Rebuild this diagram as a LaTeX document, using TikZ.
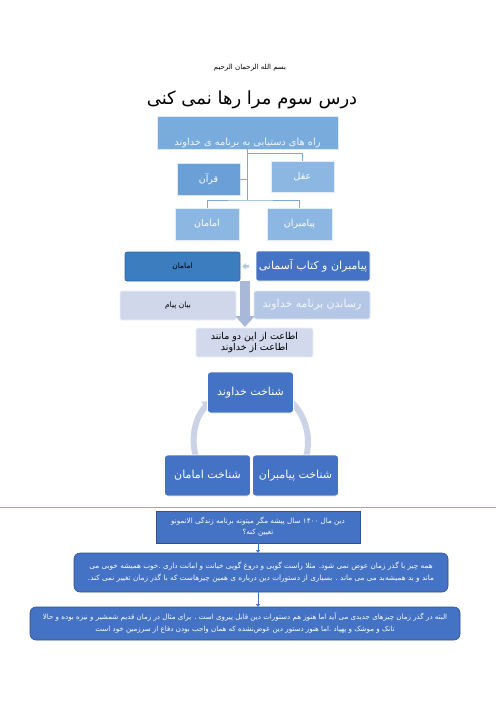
\documentclass[tikz,border=0pt]{standalone}
\usepackage{fontspec}
\newfontfamily\fa[Script=Arabic]{DejaVu Sans}
\TeXXeTstate=1
\newcommand{\rl}[1]{{\fa\beginR #1\endR}}
\usetikzlibrary{arrows.meta,calc}
\definecolor{topf}{HTML}{79ACDC}
\definecolor{lbf}{HTML}{8CB7E2}
\definecolor{qf}{HTML}{6A9FD8}
\definecolor{dbl}{HTML}{4472C4}
\definecolor{dbd}{HTML}{2F528F}
\definecolor{imf}{HTML}{3B7DBF}
\definecolor{rsf}{HTML}{B4C7E7}
\definecolor{bpf}{HTML}{D0D7EA}
\definecolor{arf}{HTML}{A9B7D9}
\definecolor{etf}{HTML}{D3D9EC}
\definecolor{cyc}{HTML}{CCD3E6}
\definecolor{connc}{HTML}{7FA8D8}
\definecolor{hline}{HTML}{8EAADB}
\tikzset{
  base/.style={inner sep=0pt, outer sep=0pt, align=center},
  lbox/.style={base, fill=#1, draw=white!75!#1, line width=0.8pt, text=white},
  conn/.style={draw=connc, line width=0.8pt},
  softbox/.style={base, fill=#1, draw=white!60!#1, line width=0.8pt, rounded corners=2pt},
  cycbox/.style={base, fill=dbl, draw=white, line width=0.8pt, rounded corners=3pt, text=white,
     minimum width=86pt, minimum height=41pt, font=\fontsize{11}{13}\selectfont},
  bluebox/.style={base, fill=dbl, draw=dbd, line width=0.6pt, text=white},
  smallarr/.style={draw=dbl, line width=0.6pt, -{Triangle[width=4pt,length=3pt]}},
}
\begin{document}
\begin{tikzpicture}[x=1pt,y=-1pt]
\useasboundingbox[fill=white] (0,0) rectangle (496,702);

\node[base, font=\fontsize{7}{8}\selectfont] (bism) at (250,68) {\rl{بسم الله الرحمان الرحیم}};
\node[base, font=\fontsize{18}{20}\selectfont] (title) at (252,100) {\rl{درس سوم مرا رها نمی کنی}};

% hierarchy
\node[lbox=topf, minimum width=181pt, minimum height=33pt, text height=29pt, text depth=4pt,
      text=white!90!topf, font=\fontsize{9.8}{11}\selectfont] (top) at (247.5,132.5)
      {\rl{راه های دستیابی به برنامه ی خداوند}};
\node[lbox=lbf, minimum width=63pt, minimum height=31pt, font=\fontsize{9.5}{11}\selectfont] (aql) at (302.5,176.5) {\rl{عقل}};
\node[lbox=qf, minimum width=63pt, minimum height=32pt, font=\fontsize{9.5}{11}\selectfont] (quran) at (208.5,179) {\rl{قرآن}};
\node[lbox=lbf, minimum width=64pt, minimum height=32pt, font=\fontsize{9.5}{11}\selectfont] (imL) at (207,224) {\rl{امامان}};
\node[lbox=lbf, minimum width=65pt, minimum height=32pt, font=\fontsize{9.5}{11}\selectfont] (payL) at (299.5,224) {\rl{پیامبران}};
\coordinate (j1) at (top.south |- 0,153);
\coordinate (j2) at (top.south |- quran.east);
\coordinate (j3) at (top.south |- 0,200);
\draw[conn] (top.south) -- (j3);
\draw[conn] (j1) -| (aql.north);
\draw[conn] (j2) -- (quran.east);
\draw[conn] (imL.north) |- (j3) -| (payL.north);

% process
\node[base, fill=dbl, draw=white, line width=0.8pt, rounded corners=2pt, minimum width=114pt, minimum height=30pt,
      text=white, font=\fontsize{11}{13}\selectfont] (pk) at (313,266) {\rl{پیامبران و کتاب آسمانی}};
\node[base, fill=imf, draw=dbd!60!imf, line width=0.6pt, rounded corners=2pt, minimum width=115pt, minimum height=29pt,
      font=\fontsize{7.5}{9}\selectfont] (imam) at (182.5,266.5) {\rl{امامان}};
\draw[draw=rsf, line width=2.5pt, -{Triangle[width=6pt,length=4pt]}, shorten <=7pt, shorten >=2pt] (pk.west) -- (imam.east);
\node[softbox=rsf, minimum width=116pt, minimum height=28pt, text=white!85!rsf,
      font=\fontsize{11}{13}\selectfont] (rs) at (312,305) {\rl{رساندن برنامه خداوند}};
\node[softbox=bpf, minimum width=116pt, minimum height=29pt, font=\fontsize{7.5}{9}\selectfont] (bp) at (178,305.5) {\rl{بیان پیام}};
\node[softbox=etf, minimum width=117pt, minimum height=29pt, font=\fontsize{9.5}{11}\selectfont] (et) at (254.5,342.5)
      {\rl{اطاعت از این دو مانند}\\\rl{اطاعت از خداوند}};
\coordinate (a1) at (245,281);
\coordinate (a2) at (245,327);
\draw[draw=arf, line width=10pt, -{Triangle[width=19pt,length=11pt]}] (a1) -- (a2);

% cycle
\coordinate (cc) at (251,442);
\draw[draw=cyc, line width=6pt] ($(cc)+(232:57)$) arc[start angle=232, end angle=420, radius=57];
\draw[draw=cyc, line width=6pt, -{Triangle[width=13pt,length=8pt]}] ($(cc)+(150:57)$) arc[start angle=150, end angle=226, radius=57];
\node[cycbox] (c1) at (250.5,392.5) {\rl{شناخت خداوند}};
\node[cycbox] (c2) at (207.5,475.5) {\rl{شناخت امامان}};
\node[cycbox] (c3) at (295.5,475.5) {\rl{شناخت پیامبران}};

% separator
\coordinate (h1) at (0,507);
\coordinate (h2) at (496,507);
\draw[draw=hline, line width=1pt] (h1) -- (h2);

% bottom boxes
\node[bluebox, minimum width=204pt, minimum height=32pt, font=\fontsize{7.2}{11}\selectfont] (b1) at (258,527)
  {\rl{دین مال \beginL۱۴۰۰\endL{} سال پیشه مگر میتونه برنامه زندگی الانمونو}\\\rl{تعیین کنه؟}};
\node[bluebox, rounded corners=6pt, minimum width=374pt, minimum height=39pt, font=\fontsize{7.3}{12}\selectfont] (b2) at (261,572.5)
  {\rl{همه چیز با گذر زمان عوض نمی شود. مثلا راست گویی و دروغ گویی خیانت و امانت داری .خوب همیشه خوبی می}\\
   \rl{ماند و بد همیشه‌بد می می ماند . بسیاری از دستورات دین درباره ی همین چیزهاست که با گذر زمان تغییر نمی کند.}};
\node[bluebox, rounded corners=6pt, minimum width=430pt, minimum height=33pt, font=\fontsize{7.1}{12}\selectfont] (b3) at (245,623.5)
  {\rl{البته در گذر زمان چیزهای جدیدی می آید اما هنوز هم دستورات دین قابل پیروی است . برای مثال در زمان قدیم شمشیر و نیزه بوده و حالا}\\
   \rl{تانک و موشک و پهپاد .اما هنوز دستور دین عوض‌نشده که همان واجب بودن دفاع از سرزمین خود است}};
\draw[smallarr] (b1.south) -- (b1.south |- b2.north);
\draw[smallarr] (b2.south -| b1.south) -- (b1.south |- b3.north);
\end{tikzpicture}
\end{document}
